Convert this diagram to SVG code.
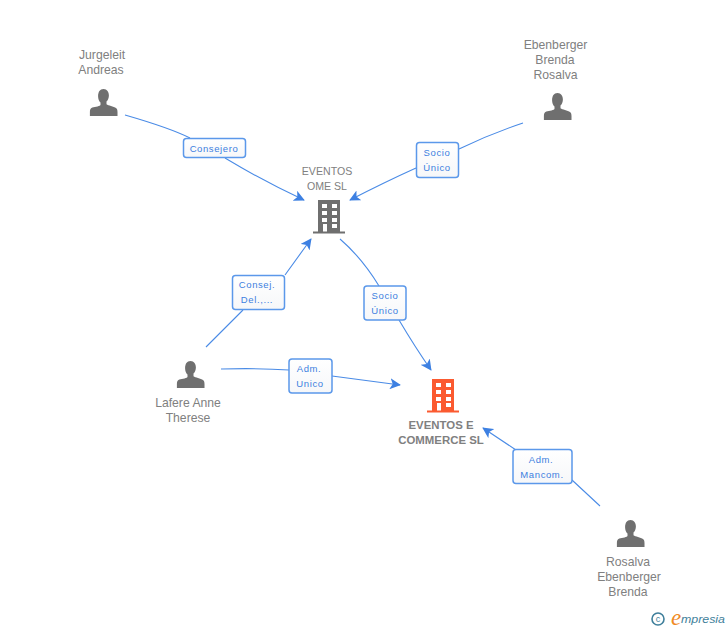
<svg xmlns="http://www.w3.org/2000/svg" width="728" height="630" viewBox="0 0 728 630">
<style>
text{font-family:"Liberation Sans",Arial,sans-serif}
.n{font-size:12.2px;fill:#808080;text-anchor:middle}
.s{font-size:10.6px}
.b{font-weight:bold;font-size:11.4px}
.l{font-size:9.5px;fill:#3d7fe0;text-anchor:middle;letter-spacing:.6px}
.box{fill:url(#g);stroke:#5b98ea;stroke-width:1.5}
.c{fill:none;stroke:#4a8be6;stroke-width:1.1}
.ar{fill:#3d80e2}
</style>
<defs>
<linearGradient id="g" x1="0" y1="0" x2="0" y2="1"><stop offset="0" stop-color="#fff"/><stop offset="1" stop-color="#f6f7f9"/></linearGradient>
<g id="person"><path d="M0-15c3.600 0 5.400 3 5.400 6.400 0 2.600-1 4.800-2.400 6.200v2.300c0 1 5.500 2 8.600 3.600 2 1 2.400 2.300 2.400 4.500v4H-13.600v-4c0-2.200.4-3.500 2.400-4.500C-8.100 2.900-3 1.900-3 .9v-2.300c-1.400-1.400-2.400-3.600-2.400-6.200C-5.400-12-3.600-15 0-15z" fill="#6f6f6f"/></g>
<g id="bld"><path d="M-11-17H11V14.500H16V16.500H-16V14.500H-11z"/><g fill="#fff"><rect x="-7" y="-13" width="5" height="4"/><rect x="3" y="-13" width="5" height="4"/><rect x="-7" y="-6" width="5" height="4"/><rect x="3" y="-6" width="5" height="4"/><rect x="-7" y="1" width="5" height="4"/><rect x="3" y="1" width="5" height="4"/><rect x="-6" y="7" width="4" height="7.500"/><rect x="3" y="7" width="5" height="4"/></g></g>
<marker id="a" viewBox="0 0 12 12" refX="11" refY="6" markerWidth="11" markerHeight="11" markerUnits="userSpaceOnUse" orient="auto"><path d="M0 0L12 6L0 12L3 6z" class="ar"/></marker>
</defs>
<g id="connectors">
<path class="c" marker-end="url(#a)" d="M125 115Q170 128 190 138M225 158Q265 182 304 200"/>
<path class="c" marker-end="url(#a)" d="M523 123Q490 134 459 149M416 168Q385 182 350 200"/>
<path class="c" marker-end="url(#a)" d="M206 347L243 310M285 275L311 239"/>
<path class="c" marker-end="url(#a)" d="M340 239Q362 258 379 286M399 320Q415 347 431 370"/>
<path class="c" marker-end="url(#a)" d="M221 369Q260 368 289 370M332 376L400 385"/>
<path class="c" marker-end="url(#a)" d="M600 506L572 480M516 450L483 428"/>
</g>
<g id="n1"><text class="n" x="102" y="59">Jurgeleit</text><text class="n" x="101" y="74">Andreas</text><use href="#person" x="103.500" y="104"/></g>
<g id="n2"><text class="n" x="555.500" y="49">Ebenberger</text><text class="n" x="555" y="64">Brenda</text><text class="n" x="555.500" y="79">Rosalva</text><use href="#person" x="557.500" y="108"/></g>
<g id="n3"><text class="n s" x="327" y="175">EVENTOS</text><text class="n s" x="327" y="190">OME SL</text><use href="#bld" x="329" y="217" fill="#6f6f6f"/></g>
<g id="n4"><use href="#person" x="190.500" y="376"/><text class="n" x="188" y="407">Lafere Anne</text><text class="n" x="188" y="422">Therese</text></g>
<g id="n5"><use href="#bld" x="443" y="396" fill="#fb5a30"/><text class="n b" x="441" y="429">EVENTOS E</text><text class="n b" x="441" y="444">COMMERCE SL</text></g>
<g id="n6"><use href="#person" x="630.500" y="535"/><text class="n" x="628" y="566">Rosalva</text><text class="n" x="629" y="581">Ebenberger</text><text class="n" x="628" y="596">Brenda</text></g>
<g id="labels">
<g><rect class="box" x="183.500" y="138.500" width="62" height="19" rx="3"/><text class="l" x="214" y="152">Consejero</text></g>
<g><rect class="box" x="416.500" y="142.500" width="42" height="35" rx="3"/><text class="l" x="437" y="156">Socio</text><text class="l" x="437" y="171">Único</text></g>
<g><rect class="box" x="232.500" y="275.500" width="52" height="34" rx="3"/><text class="l" x="257" y="288">Consej.</text><text class="l" x="257" y="303">Del.,...</text></g>
<g><rect class="box" x="364" y="286" width="42" height="34" rx="3"/><text class="l" x="385" y="299">Socio</text><text class="l" x="385" y="314">Único</text></g>
<g><rect class="box" x="289" y="359" width="43" height="34" rx="3"/><text class="l" x="309" y="372">Adm.</text><text class="l" x="310" y="387">Unico</text></g>
<g><rect class="box" x="513" y="449.500" width="59" height="34" rx="3"/><text class="l" x="541" y="463">Adm.</text><text class="l" x="542" y="478">Mancom.</text></g>
</g>
<g id="logo"><circle cx="658" cy="619" r="6" fill="none" stroke="#3f7f9b" stroke-width="1.600"/><text x="658" y="622" font-size="9" fill="#3f7f9b" text-anchor="middle">c</text><text x="671" y="625" font-size="23" fill="#f08a24" font-style="italic" style="font-family:'Liberation Serif',serif">e</text><text x="681" y="623" font-size="11.500" fill="#3f7f9b" font-style="italic" textLength="44" lengthAdjust="spacingAndGlyphs">mpresia</text></g>
</svg>
